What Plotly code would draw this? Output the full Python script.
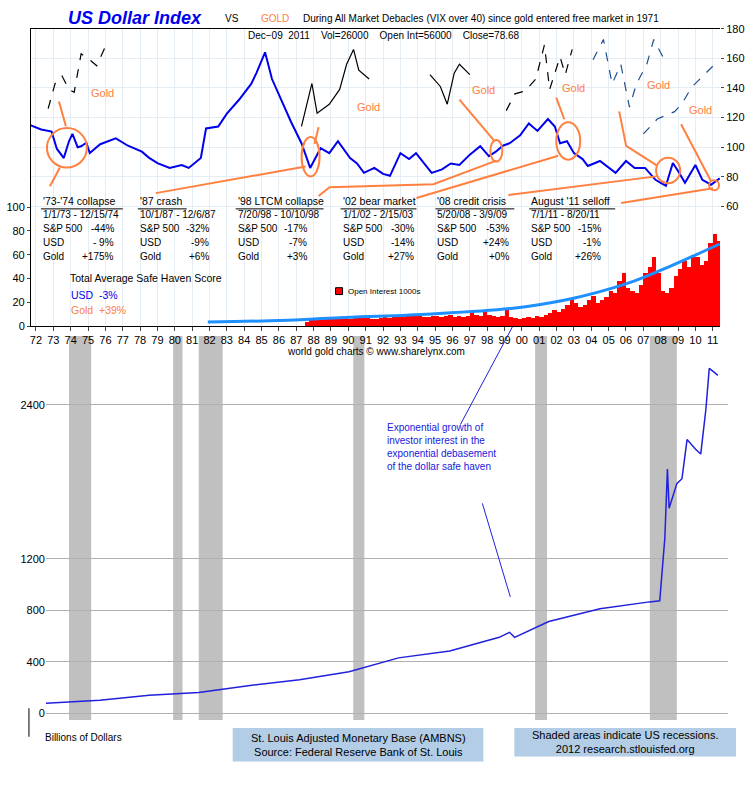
import plotly.graph_objects as go

W, H = 756, 793

# ---- data ----
usd_year = [1972.2, 1972.8, 1973.4, 1973.7, 1974.1, 1974.4, 1974.6, 1974.9, 1975.1, 1975.4, 1975.6,
            1976.2, 1977.1, 1977.8, 1978.6, 1979.0, 1979.5, 1980.2, 1980.9,
            1981.3, 1982.0, 1982.3, 1983.0, 1983.5, 1984.2, 1984.9, 1985.2, 1985.7, 1986.1, 1986.6,
            1987.2, 1987.8, 1988.3, 1988.9, 1989.4, 1989.9,
            1990.3, 1990.6, 1991.0, 1991.4, 1992.0, 1992.5, 1992.9, 1993.5, 1994.0, 1994.4,
            1995.3, 1995.9, 1996.4, 1996.9, 1997.5, 1998.1, 1998.6, 1999.0, 1999.4, 1999.8,
            2000.4, 2000.9, 2001.4, 2002.0, 2002.4, 2002.7, 2003.1, 2003.5, 2004.0, 2004.3, 2005.0,
            2005.9, 2006.5, 2007.0, 2007.6, 2008.2, 2008.5,
            2008.8, 2009.2, 2009.5, 2009.9, 2010.5, 2010.9, 2011.4, 2011.9]
usd_val = [114.7, 112, 110.6, 99, 92.7, 104, 109, 100, 100.6, 103, 96,
           102, 106, 101, 97, 93, 89.3, 86, 88,
           86, 92.7, 112.7, 114, 122.7, 132, 142.7, 150, 164, 146, 132.7,
           117, 102.7, 86, 99.3, 96, 104,
           98, 92.7, 89, 82.7, 86, 82, 80.7, 96, 92, 96,
           82.7, 85, 89, 88, 95, 100.7, 94, 97, 101, 102.7,
           108, 116, 111, 119, 114, 102.7, 104, 96, 92, 87.3, 90.7,
           82.7, 90.7, 86, 86, 78, 76,
           74, 89.3, 84, 76, 88, 78, 74.7, 79]

gold1_year = [1973.2, 1973.6, 1974.0, 1974.4, 1974.7, 1975.1, 1975.6, 1976.0, 1976.5]
gold1_val = [126, 143, 148, 139, 137, 163, 159, 155, 168]
gold2_year = [1987.8, 1988.4, 1988.7, 1989.4, 1990.0, 1990.4, 1990.8, 1991.1, 1991.7]
gold2_val = [114, 143, 123, 129, 139, 156, 166, 152, 146]
gold3_year = [1995.2, 1995.8, 1996.2, 1996.6, 1996.9, 1997.5]
gold3_val = [149, 141, 129, 150, 156, 149]
gold4_year = [1999.6, 2000.1, 2000.7, 2001.3, 2001.8, 2002.1, 2002.7, 2003.0, 2003.4]
gold4_val = [124.7, 136, 138, 146, 169, 139, 161, 149, 166]
gold5_year = [2004.6, 2005.2, 2005.7, 2006.2, 2006.7, 2007.1, 2007.7, 2008.1, 2008.8]
gold5_val = [159, 172.7, 142.7, 156, 127, 142.7, 156, 172.7, 157]
gold6_year = [2007.5, 2008.3, 2009.3, 2009.7, 2010.3, 2010.9, 2011.5]
gold6_val = [109, 119, 124, 129, 140.7, 148, 154.6]

oi_start = 1988.0
oi_val = [4, 5, 6, 5, 6, 7, 6, 7, 8, 7, 6, 7, 7, 8, 7, 6, 6, 7, 8, 7,
          9, 10, 8, 9, 9, 10, 9, 8, 8, 9, 9, 8, 9, 10, 8, 9, 8, 9, 12, 10,
          9, 14, 10, 9, 8, 9, 14, 8, 7, 6, 7, 8, 7, 9, 8, 10, 11, 14, 12, 15,
          18, 24, 20, 16, 18, 22, 26, 20, 22, 25, 30, 28, 38, 45, 32, 30,
          28, 35, 45, 50, 58, 45, 30, 28, 32, 42, 48, 55, 50, 60, 58, 52,
          55, 70, 78, 72]
oi_year = [oi_start + 0.125 + 0.25 * i for i in range(len(oi_val))]

trend_year = [1982.4, 1986, 1990, 1995, 2000, 2003, 2005, 2007, 2009, 2011.9]
trend_val = [3.5, 4.5, 7, 10, 15, 22, 29, 38, 50, 69]

base_year = [1972.55, 1975.7, 1978.6, 1981.5, 1984.5, 1987.4, 1990.3, 1993.2, 1996.2, 1999.1,
             1999.7, 2000.0, 2002.0, 2005.0, 2007.9, 2008.5, 2008.8, 2008.95, 2009.05, 2009.5,
             2009.8, 2010.1, 2010.6, 2010.9, 2011.2, 2011.4, 2011.7, 2011.9]
base_val = [77, 100, 138, 161, 215, 260, 322, 430, 483, 590,
            629, 590, 713, 813, 866, 874, 1365, 1900, 1595, 1787,
            1825, 2130, 2055, 2017, 2362, 2684, 2653, 2630]

recessions = [(1973.9, 1975.2), (1980.0, 1980.55), (1981.5, 1982.9),
              (1990.55, 1991.2), (2001.2, 2001.9), (2007.92, 2009.5)]

events = [
    ("'73-'74 collapse", "1/1/73 - 12/15/74", "-44%", "- 9%", "+175%"),
    ("'87 crash", "10/1/87 - 12/6/87", "-32%", "-9%", "+6%"),
    ("'98 LTCM collapse", "7/20/98 - 10/10/98", "-17%", "-7%", "+3%"),
    ("'02 bear market", "1/1/02 - 2/15/03", "-30%", "-14%", "+27%"),
    ("'08 credit crisis", "5/20/08 - 3/9/09", "-53%", "+24%", "+0%"),
    ("August '11 selloff", "7/1/11 - 8/20/11", "-15%", "-1%", "+26%"),
]

# ---- helpers: pixel -> paper ----
def px(x):
    return x / W

def py(y):
    return 1 - y / H

FONT = "Liberation Sans"
ORANGE = "#ff8040"

fig = go.Figure()

fig.add_trace(go.Bar(x=oi_year, y=oi_val, width=0.25, marker=dict(color="#ff0000", line=dict(width=0)),
                     xaxis="x", yaxis="y", showlegend=False))
fig.add_trace(go.Scatter(x=trend_year, y=trend_val, mode="lines", line=dict(color="#1e90ff", width=3, shape="spline"),
                         xaxis="x", yaxis="y", showlegend=False))
fig.add_trace(go.Scatter(x=usd_year, y=usd_val, mode="lines", line=dict(color="#0000ee", width=2),
                         xaxis="x", yaxis="y2", showlegend=False))
for gx, gy, col, dash in [(gold1_year, gold1_val, "black", "dash"), (gold2_year, gold2_val, "black", "solid"),
                          (gold3_year, gold3_val, "black", "solid"), (gold4_year, gold4_val, "black", "dash"),
                          (gold5_year, gold5_val, "#1f4f8f", "dash"), (gold6_year, gold6_val, "#1f4f8f", "dash")]:
    fig.add_trace(go.Scatter(x=gx, y=gy, mode="lines", line=dict(color=col, width=1.2, dash=dash),
                             xaxis="x", yaxis="y2", showlegend=False))

fig.add_trace(go.Scatter(x=base_year, y=base_val, mode="lines", line=dict(color="#2020dd", width=1.5),
                         xaxis="x2", yaxis="y3", showlegend=False))

shapes = []
for a, b in recessions:
    shapes.append(dict(type="rect", xref="x2", yref="paper", x0=a, x1=b, y0=py(725), y1=py(335),
                       fillcolor="#c0c0c0", line=dict(width=0), layer="below"))

# orange circles
for cx, cy, rx, ry in [(66, 144, 20, 20), (310, 153, 9, 20), (496, 147, 6, 11),
                       (568, 137, 12, 19), (668, 167, 12, 13), (714, 182, 5, 5)]:
    shapes.append(dict(type="circle", xref="paper", yref="paper", x0=px(cx - rx), x1=px(cx + rx),
                       y0=py(cy + ry), y1=py(cy - ry), line=dict(color=ORANGE, width=2)))

# orange connector lines
paths = [[(58, 97), (65, 122)], [(59, 164), (49, 183)], [(155, 190), (305, 163)],
         [(314, 140), (318, 123)], [(318, 193), (329, 184), (433, 181), (496, 157)],
         [(416, 195), (558, 152)], [(494, 137), (459, 95)], [(564, 115), (556, 93)],
         [(508, 192), (656, 173)], [(619, 107), (626, 142), (657, 162)],
         [(621, 200), (713, 185)], [(681, 120), (711, 178)]]
for p in paths:
    d = "M " + " L ".join(f"{px(x)},{py(y)}" for x, y in p)
    shapes.append(dict(type="path", xref="paper", yref="paper", path=d, line=dict(color=ORANGE, width=2)))

# blue pointer lines
for (x0, y0), (x1, y1) in [((512, 326), (460, 425)), ((482, 505), (510, 600))]:
    shapes.append(dict(type="line", xref="paper", yref="paper", x0=px(x0), y0=py(y0), x1=px(x1), y1=py(y1),
                       line=dict(color="#2020dd", width=1)))

# small arrow marker bottom-left
shapes.append(dict(type="line", xref="paper", yref="paper", x0=px(28), x1=px(28), y0=py(713), y1=py(742),
                   line=dict(color="black", width=1)))

ann = []

def text(x, y, s, size=11, color="black", anchor="left", **kw):
    ann.append(dict(xref="paper", yref="paper", x=px(x), y=py(y), text=s, showarrow=False,
                    xanchor=anchor, yanchor="middle", font=dict(family=FONT, size=size, color=color), **kw))

text(65, 12, "<b><i>US Dollar Index</i></b>", 18, "#0000ee")
text(222, 13, "VS", 10)
text(258, 13, "GOLD", 10, ORANGE)
text(300, 13, "During All Market Debacles (VIX over 40) since gold entered free market in 1971", 10)
text(245, 30, "Dec−09  2011    Vol=26000    Open Int=56000    Close=78.68", 10)

for x, y in [(102, 88), (368, 103), (483, 85), (573, 83), (658, 80), (700, 106)]:
    text(x, y, "Gold", 11, ORANGE, anchor="center")

cols = [(40, 115, 122), (137, 210, 186), (235, 308, 323), (340, 416, 416), (435, 511, 514), (529, 603, 615)]
for (lx, rx, ux), ev in zip(cols, events):
    text(lx, 198, ev[0], 10.5)
    shapes.append(dict(type="line", xref="paper", yref="paper", x0=px(lx), x1=px(ux), y0=py(206), y1=py(206),
                       line=dict(color="black", width=1)))
    text(lx, 212, ev[1], 10)
    text(lx, 226, "S&P 500", 10)
    text(lx, 240, "USD", 10)
    text(lx, 254, "Gold", 10)
    text(rx, 226, ev[2], 10, anchor="right")
    text(rx, 240, ev[3], 10, anchor="right")
    text(rx, 254, ev[4], 10, anchor="right")

text(67, 276, "Total Average Safe Haven Score", 10.5)
text(68, 293, "USD  -3%", 10.5, "#0000ee")
text(68, 309, "Gold  +39%", 10.5, ORANGE)
text(345, 290, "Open Interest 1000s", 8)
shapes.append(dict(type="rect", xref="paper", yref="paper", x0=px(335), x1=px(342), y0=py(293), y1=py(286),
                   fillcolor="#ff0000", line=dict(color="black", width=1)))
text(375, 351, "world gold charts © www.sharelynx.com", 10, anchor="center")

text(385, 448, "Exponential growth of<br>investor interest in the<br>exponential debasement<br>of the dollar safe haven",
     10, "#2020dd", align="left")
text(42, 743, "Billions of Dollars", 10)

for x0, x1, y0, y1, s in [(232, 483, 733, 767, "St. Louis Adjusted Monetary Base (AMBNS)<br>Source: Federal Reserve Bank of St. Louis"),
                          (514, 736, 733, 762, "Shaded areas indicate US recessions.<br>2012 research.stlouisfed.org")]:
    shapes.append(dict(type="rect", xref="paper", yref="paper", x0=px(x0), x1=px(x1), y0=py(y1), y1=py(y0),
                       fillcolor="#b3cde6", line=dict(width=0)))
    text((x0 + x1) / 2, (y0 + y1) / 2, s, 11, anchor="center", align="center")

yr_ticks = [1972.5 + i for i in range(40)]
yr_text = [f"{(72 + i) % 100:02d}" for i in range(40)]

fig.update_layout(
    width=W, height=H, margin=dict(l=0, r=0, t=0, b=0),
    paper_bgcolor="white", plot_bgcolor="white", bargap=0,
    font=dict(family=FONT, size=11, color="black"),
    shapes=shapes, annotations=ann,
    xaxis=dict(domain=[px(30), px(720)], range=[1972.21, 2011.92], tickvals=yr_ticks, ticktext=yr_text,
               ticks="outside", ticklen=4, showgrid=True, gridcolor="#e4ecf4", zeroline=False,
               showline=True, linecolor="black", mirror=True, anchor="y", tickfont=dict(size=11)),
    yaxis=dict(domain=[py(325), py(23)], range=[0, 250], tickvals=[0, 20, 40, 60, 80, 100],
               ticks="outside", ticklen=3, showgrid=False, zeroline=False, showline=True,
               linecolor="black", anchor="x"),
    yaxis2=dict(overlaying="y", side="right", range=[-20.7, 180], tickvals=[60, 80, 100, 120, 140, 160, 180],
                ticks="outside", ticklen=3, showgrid=True, gridcolor="#e4ecf4", zeroline=False, anchor="x"),
    xaxis2=dict(domain=[px(45), px(728)], range=[1972.55, 2012.5], showticklabels=False, showgrid=False,
                zeroline=False, anchor="y3"),
    yaxis3=dict(domain=[py(725), py(335)], range=[-54, 2937], tickvals=[0, 400, 800, 1200, 2400],
                showgrid=True, gridcolor="#b0b0b0", zeroline=False, anchor="x2", tickfont=dict(size=11)),
)

fig.write_html("out.html", config={"displayModeBar": False},
               post_script="document.body.style.margin='0';")
